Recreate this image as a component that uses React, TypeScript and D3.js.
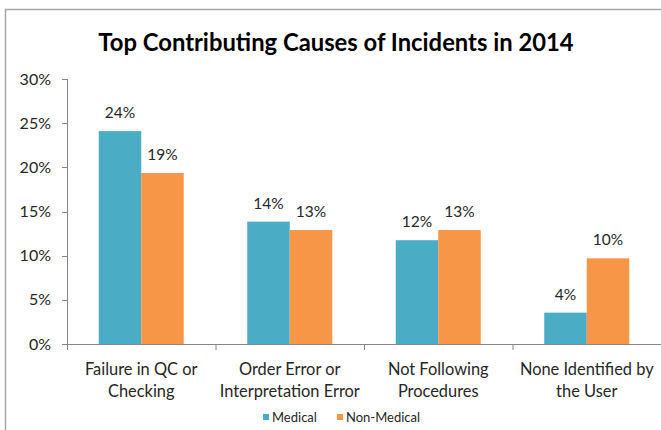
import React from "react";
import * as d3 from "d3";

const categories = [
  ["Failure in QC or", "Checking"],
  ["Order Error or", "Interpretation Error"],
  ["Not Following", "Procedures"],
  ["None Identified by", "the User"],
];
const seriesNames = ["Medical", "Non-Medical"];
const medical = [24.1, 13.85, 11.75, 3.55];
const nonMedical = [19.35, 12.9, 12.9, 9.7];
const labelsMedical = ["24%", "14%", "12%", "4%"];
const labelsNonMedical = ["19%", "13%", "13%", "10%"];
const yTicks = [0, 5, 10, 15, 20, 25, 30];
const colors = ["#4BACC6", "#F79646"];

const W = 661;
const H = 430;
const FONT = "Lato, 'Open Sans', sans-serif";

export default function App() {
  const x = d3.scaleBand<number>().domain([0, 1, 2, 3]).range([67, 661]).paddingInner(0).paddingOuter(0);
  const step = x.step();
  const inner = d3.scaleBand<number>().domain([0, 1]).range([0, 85]);
  const y = d3.scaleLinear().domain([0, 30]).range([344, 79]);
  const series = [medical, nonMedical];
  const labels = [labelsMedical, labelsNonMedical];

  return (
    <svg width={W} height={H} style={{ position: "absolute", left: 0, top: 0, background: "#fff" }}>
      <rect x={0} y={0} width={W} height={H} fill="#fff" />
      <path d={`M5.5,${H} V9.5 H${W}`} fill="none" stroke="#a6a6a6" strokeWidth={1.5} />
      <text x={336} y={51} textAnchor="middle" fontFamily={FONT} fontWeight="bold" fontSize={23.8} fill="#000">
        Top Contributing Causes of Incidents in 2014
      </text>
      {/* y axis */}
      <line x1={67.5} x2={67.5} y1={y(30)} y2={y(0)} stroke="#868686" />
      {yTicks.map((t) => (
        <g key={t}>
          <line x1={62} x2={67.5} y1={Math.round(y(t)) + 0.5} y2={Math.round(y(t)) + 0.5} stroke="#868686" />
          <text x={51} y={y(t) + 5.5} textAnchor="end" fontFamily={FONT} fontSize={16} fill="#262626">
            {t}%
          </text>
        </g>
      ))}
      {/* x axis */}
      <line x1={67} x2={661} y1={344.5} y2={344.5} stroke="#868686" />
      {[0, 1, 2, 3, 4].map((i) => (
        <line key={i} x1={67.5 + i * step} x2={67.5 + i * step} y1={344.5} y2={350} stroke="#868686" />
      ))}
      {series.map((vals, s) =>
        vals.map((v, i) => {
          const bx = (x(i) as number) + (step - 85) / 2 + (inner(s) as number);
          return (
            <g key={`${s}-${i}`}>
              <rect x={bx} y={y(v)} width={inner.bandwidth()} height={y(0) - y(v)} fill={colors[s]} />
              <text
                x={bx + inner.bandwidth() / 2}
                y={y(v) - 13}
                textAnchor="middle"
                fontFamily={FONT}
                fontSize={15.5}
                fill="#262626"
              >
                {labels[s][i]}
              </text>
            </g>
          );
        })
      )}
      {categories.map((lines, i) => (
        <text key={i} textAnchor="middle" fontFamily={FONT} fontSize={16.4} fill="#262626">
          {lines.map((l, j) => (
            <tspan key={j} x={(x(i) as number) + step / 2} y={375 + j * 22}>
              {l}
            </tspan>
          ))}
        </text>
      ))}
      {/* legend */}
      {seriesNames.map((n, s) => {
        const lx = [263, 337][s];
        return (
          <g key={n}>
            <rect x={lx} y={414} width={6} height={6} fill={colors[s]} />
            <text x={lx + 9} y={421.5} fontFamily={FONT} fontSize={13} fill="#262626">
              {n}
            </text>
          </g>
        );
      })}
    </svg>
  );
}
